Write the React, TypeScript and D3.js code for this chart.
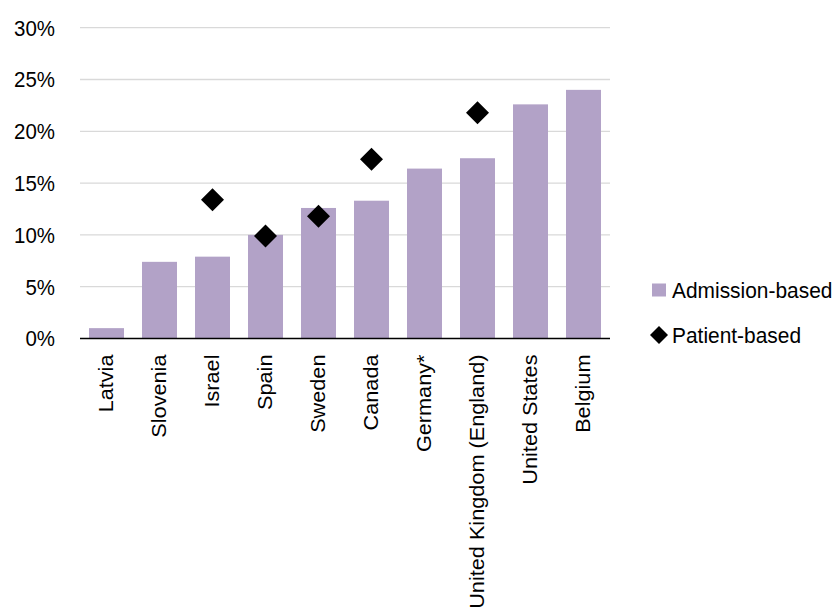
import React from "react";
import * as d3 from "d3";

const categories = ["Latvia", "Slovenia", "Israel", "Spain", "Sweden", "Canada", "Germany*", "United Kingdom (England)", "United States", "Belgium"];
const admissionBased = [1.0, 7.4, 7.9, 10.0, 12.6, 13.3, 16.4, 17.4, 22.6, 24.0];
const patientBased: (number | null)[] = [null, null, 13.4, 9.9, 11.8, 17.3, null, 21.8, null, null];
const yTicks = [0, 5, 10, 15, 20, 25, 30];
const seriesNames = ["Admission-based", "Patient-based"];

const W = 840, H = 607;
const left = 80, right = 610, top = 27.7, bottom = 338.5;
const FONT = "'Liberation Sans', Arial, sans-serif";
const BAR = "#b2a2c7";

export default function App() {
  const x = d3.scaleBand<string>().domain(categories).range([left, right]).paddingInner(0.34).paddingOuter(0.17);
  const y = d3.scaleLinear().domain([0, 30]).range([bottom, top]);
  const diamond = (cx: number, cy: number, r: number) => `M${cx},${cy - r}L${cx + r},${cy}L${cx},${cy + r}L${cx - r},${cy}Z`;
  return (
    <svg width={W} height={H} style={{ position: "absolute", left: 0, top: 0, background: "#fff" }} fontFamily={FONT}>
      {yTicks.map((t) => (
        <g key={t}>
          {t > 0 && <line x1={left} x2={right} y1={y(t)} y2={y(t)} stroke="#d9d9d9" strokeWidth={1.3} />}
          <text transform={`translate(55,${y(t)}) scale(0.93,1)`} dy="0.36em" textAnchor="end" fontSize={22} fill="#000">{t}%</text>
        </g>
      ))}
      {categories.map((c, i) => (
        <rect key={c} x={x(c)} y={y(admissionBased[i])} width={x.bandwidth()} height={y(0) - y(admissionBased[i])} fill={BAR} />
      ))}
      <line x1={left} x2={right} y1={y(0)} y2={y(0)} stroke="#000" strokeWidth={1.5} />
      {categories.map((c, i) => {
        const v = patientBased[i];
        if (v == null) return null;
        return <path key={c} d={diamond(x(c)! + x.bandwidth() / 2, y(v), 11.5)} fill="#000" />;
      })}
      {categories.map((c) => {
        const cx = x(c)! + x.bandwidth() / 2;
        return (
          <text key={c} transform={`translate(${cx + 6.5},${bottom + 16}) scale(0.93,1) rotate(-90)`} textAnchor="end" fontSize={21.7} fill="#000">{c}</text>
        );
      })}
      <rect x={652} y={283.5} width={14} height={13} fill={BAR} />
      <text transform="translate(672,290) scale(0.93,1)" dy="0.36em" fontSize={22.5} fill="#000">{seriesNames[0]}</text>
      <path d={diamond(659, 335, 9)} fill="#000" />
      <text transform="translate(672,335) scale(0.93,1)" dy="0.36em" fontSize={22.5} fill="#000">{seriesNames[1]}</text>
    </svg>
  );
}
